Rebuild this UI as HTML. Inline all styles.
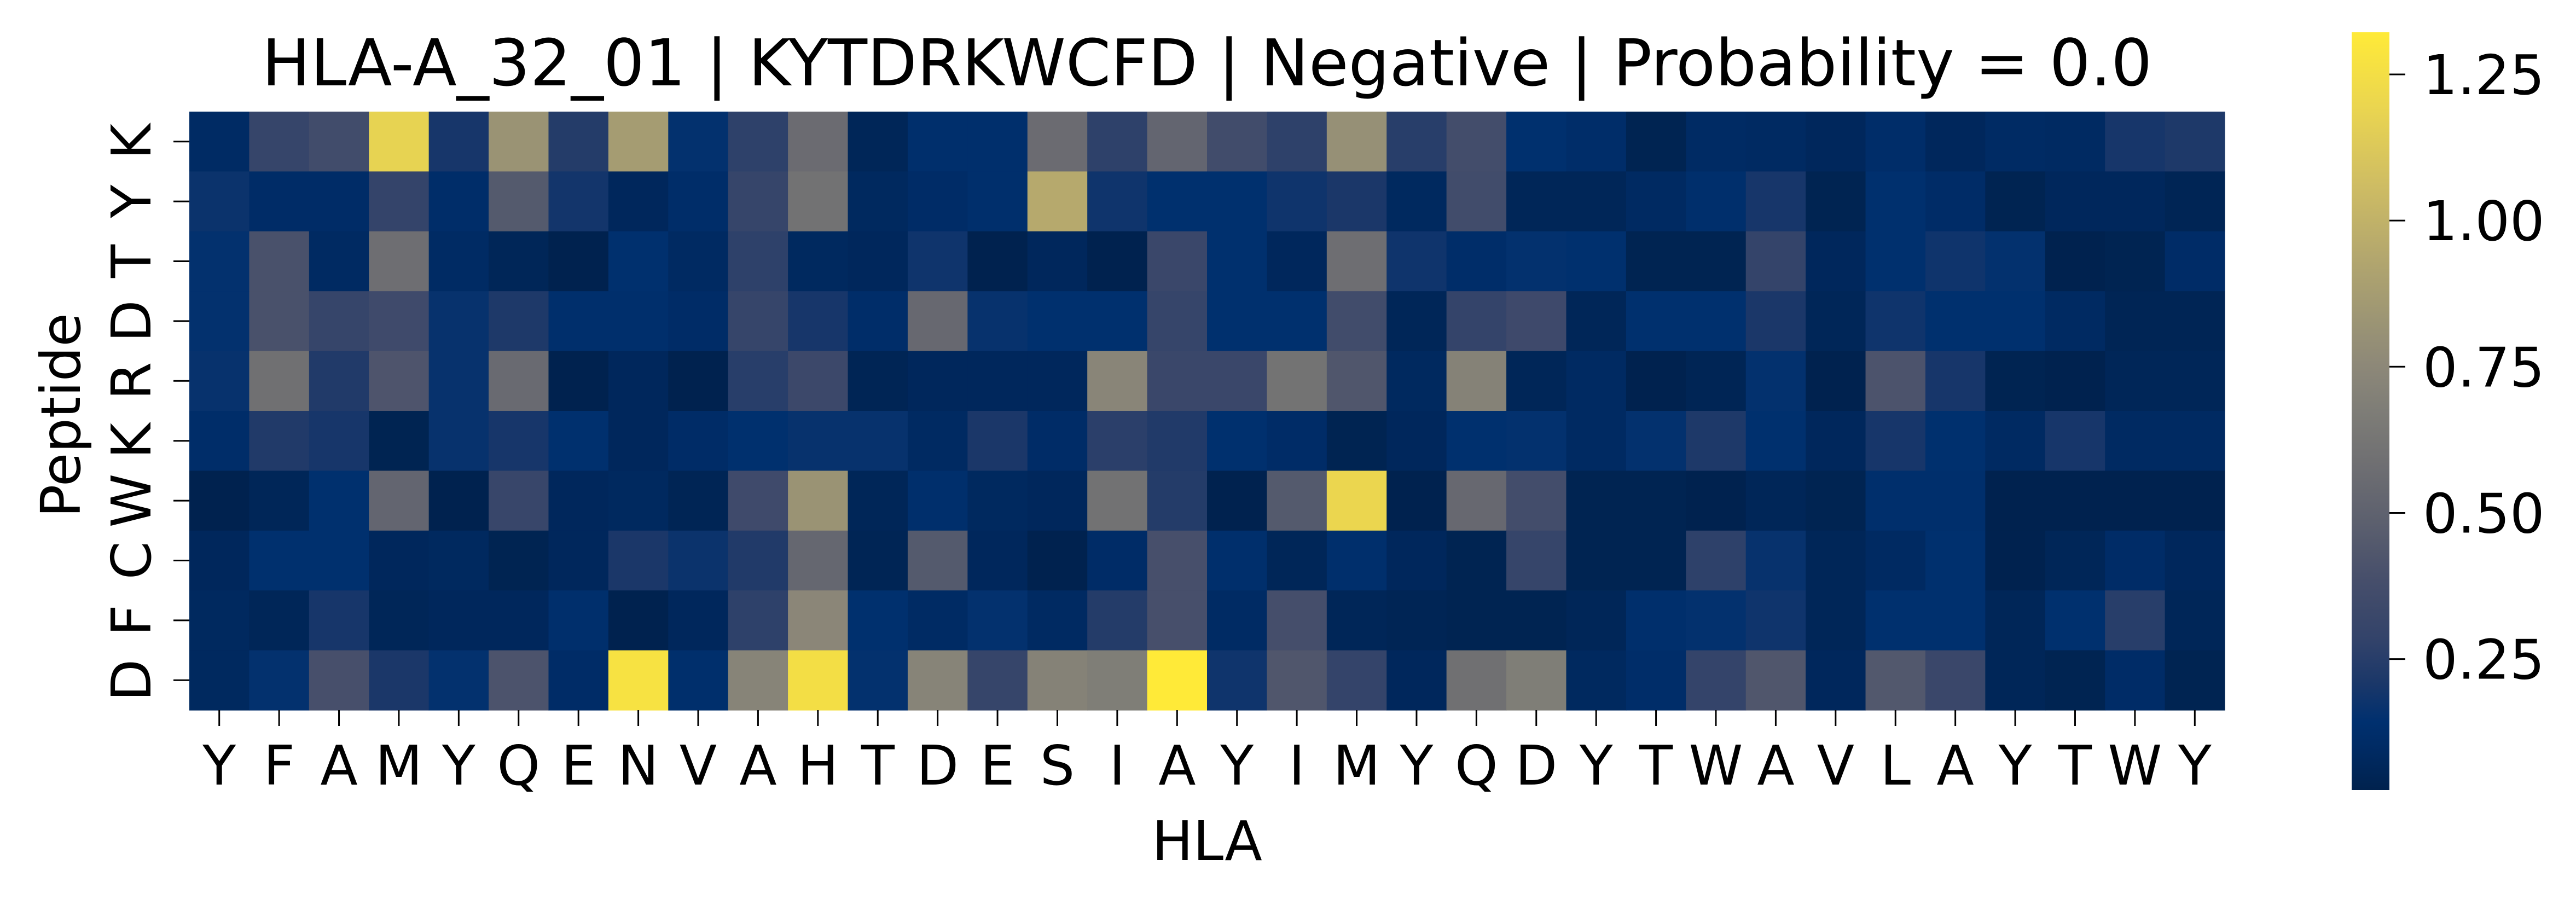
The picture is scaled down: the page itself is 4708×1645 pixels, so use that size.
<!DOCTYPE html>
<html><head><meta charset="utf-8"><style>
html,body{margin:0;padding:0;background:#fff;}
svg{display:block;font-family:"DejaVu Sans","Liberation Sans",sans-serif;}
</style></head><body>
<svg id="chart" width="4708" height="1645" viewBox="0 0 4708 1645" xmlns="http://www.w3.org/2000/svg">
<defs>
<linearGradient id="cbgrad" x1="0" y1="1" x2="0" y2="0"></linearGradient>
</defs>
<text x="2206" y="156" font-size="118" text-anchor="middle" fill="#000">HLA-A_32_01 | KYTDRKWCFD | Negative | Probability = 0.0</text>
<g id="cells"></g>
<g id="xaxis"></g>
<g id="yaxis"></g>
<text x="2206" y="1572" font-size="100" text-anchor="middle" fill="#000">HLA</text>
<text transform="translate(146,759) rotate(-90)" font-size="100" text-anchor="middle" fill="#000">Peptide</text>
<rect x="4298" y="59" width="69" height="1385" fill="url(#cbgrad)"/>
<g id="cbticks"></g>
</svg>
<script>
const xLabels = ["Y","F","A","M","Y","Q","E","N","V","A","H","T","D","E","S","I","A","Y","I","M","Y","Q","D","Y","T","W","A","V","L","A","Y","T","W","Y"];
const yLabels = ["K","Y","T","D","R","K","W","C","F","D"];
const row0 = [0.10,0.30,0.36,1.18,0.20,0.82,0.24,0.87,0.15,0.27,0.56,0.06,0.13,0.13,0.56,0.27,0.52,0.36,0.27,0.80,0.25,0.37,0.14,0.12,0.04,0.10,0.09,0.07,0.12,0.07,0.10,0.09,0.20,0.22];
const row1 = [0.17,0.11,0.11,0.29,0.12,0.45,0.19,0.07,0.12,0.30,0.60,0.08,0.11,0.13,0.95,0.18,0.14,0.14,0.18,0.21,0.08,0.36,0.06,0.06,0.09,0.13,0.20,0.04,0.14,0.11,0.04,0.07,0.07,0.05];
const row2 = [0.15,0.40,0.09,0.58,0.10,0.06,0.03,0.14,0.09,0.27,0.08,0.07,0.18,0.03,0.07,0.03,0.32,0.14,0.07,0.58,0.18,0.12,0.15,0.14,0.04,0.04,0.29,0.07,0.14,0.18,0.15,0.03,0.04,0.11];
const row3 = [0.15,0.40,0.30,0.35,0.16,0.22,0.13,0.13,0.11,0.30,0.20,0.12,0.54,0.16,0.14,0.14,0.30,0.14,0.14,0.36,0.06,0.29,0.34,0.06,0.14,0.14,0.21,0.06,0.18,0.14,0.14,0.09,0.05,0.05];
const row4 = [0.16,0.59,0.23,0.42,0.16,0.55,0.03,0.07,0.03,0.25,0.33,0.05,0.07,0.07,0.07,0.73,0.32,0.32,0.61,0.43,0.08,0.71,0.06,0.09,0.03,0.05,0.15,0.03,0.41,0.20,0.04,0.03,0.06,0.06];
const row5 = [0.12,0.23,0.20,0.04,0.16,0.20,0.14,0.07,0.11,0.14,0.16,0.16,0.09,0.21,0.11,0.26,0.23,0.14,0.11,0.04,0.07,0.14,0.15,0.09,0.15,0.22,0.14,0.07,0.20,0.14,0.09,0.20,0.09,0.09];
const row6 = [0.03,0.06,0.14,0.52,0.03,0.31,0.07,0.08,0.05,0.35,0.82,0.06,0.13,0.08,0.07,0.60,0.24,0.03,0.45,1.20,0.03,0.54,0.37,0.04,0.04,0.03,0.06,0.04,0.13,0.13,0.03,0.03,0.03,0.03];
const row7 = [0.07,0.14,0.14,0.07,0.08,0.04,0.07,0.21,0.17,0.23,0.53,0.05,0.45,0.07,0.03,0.11,0.39,0.13,0.06,0.13,0.07,0.04,0.30,0.04,0.04,0.27,0.16,0.06,0.09,0.14,0.03,0.06,0.11,0.07];
const row8 = [0.08,0.06,0.20,0.06,0.07,0.07,0.13,0.03,0.07,0.27,0.74,0.14,0.10,0.15,0.09,0.24,0.39,0.10,0.38,0.06,0.05,0.04,0.04,0.06,0.13,0.15,0.18,0.06,0.14,0.14,0.06,0.14,0.25,0.06];
const row9 = [0.08,0.15,0.39,0.21,0.15,0.41,0.11,1.27,0.13,0.72,1.25,0.15,0.72,0.30,0.71,0.68,1.32,0.18,0.43,0.29,0.07,0.59,0.68,0.08,0.12,0.29,0.43,0.07,0.44,0.32,0.06,0.04,0.11,0.04];
const rows = [row0,row1,row2,row3,row4,row5,row6,row7,row8,row9];
const cbTicks = [0.25,0.50,0.75,1.00,1.25];
const vmin = 0.026, vmax = 1.322;

const NS = "http://www.w3.org/2000/svg";
const X0 = 346, X1 = 4066, Y0 = 204, Y1 = 1298;
const cw = (X1 - X0) / xLabels.length, ch = (Y1 - Y0) / yLabels.length;
function xPos(i){ return X0 + i * cw; }
function yPos(j){ return Y0 + j * ch; }
const CB_TOP = 59, CB_BOT = 1444;
function cbY(v){ return CB_BOT - (v - vmin) / (vmax - vmin) * (CB_BOT - CB_TOP); }

const stops = [[0,"#00224e"],[0.05,"#002a62"],[0.09,"#00306f"],[0.14,"#1a3769"],[0.2,"#33436a"],[0.28,"#474f6b"],[0.35,"#5b5f6e"],[0.43,"#6f6f72"],[0.5,"#7e7d77"],[0.56,"#8d8878"],[0.62,"#9c9574"],[0.7,"#b2a66e"],[0.8,"#cfbd63"],[0.9,"#ead550"],[1,"#ffea38"]];
function hex(h){ return [parseInt(h.substr(1,2),16),parseInt(h.substr(3,2),16),parseInt(h.substr(5,2),16)]; }
function color(v){
  let t = Math.max(0, Math.min(1, (v - vmin) / (vmax - vmin)));
  for (let k = 1; k < stops.length; k++) {
    if (t <= stops[k][0]) {
      const a = stops[k-1], b = stops[k], f = (t - a[0]) / (b[0] - a[0]);
      const ca = hex(a[1]), cb = hex(b[1]);
      return "rgb(" + ca.map((c,i)=>Math.round(c + (cb[i]-c)*f)).join(",") + ")";
    }
  }
  return stops[stops.length-1][1];
}
const grad = document.getElementById("cbgrad");
stops.forEach(s => {
  const st = document.createElementNS(NS, "stop");
  st.setAttribute("offset", s[0]);
  st.setAttribute("stop-color", s[1]);
  grad.appendChild(st);
});

const cells = document.getElementById("cells");
rows.forEach((r, j) => {
  r.forEach((v, i) => {
    const rc = document.createElementNS(NS, "rect");
    rc.setAttribute("x", xPos(i)); rc.setAttribute("y", yPos(j));
    rc.setAttribute("width", cw + 0.6); rc.setAttribute("height", ch + 0.6);
    rc.setAttribute("fill", color(v));
    
    
    cells.appendChild(rc);
  });
});

const xa = document.getElementById("xaxis");
xLabels.forEach((l, i) => {
  const cx = xPos(i) + cw / 2;
  const tk = document.createElementNS(NS, "line");
  tk.setAttribute("x1", cx); tk.setAttribute("x2", cx); tk.setAttribute("y1", Y1); tk.setAttribute("y2", Y1 + 29);
  tk.setAttribute("stroke", "#000"); tk.setAttribute("stroke-width", "3");
  
  
  xa.appendChild(tk);
  const t = document.createElementNS(NS, "text");
  t.setAttribute("x", cx); t.setAttribute("y", 1434);
  t.setAttribute("font-size", "100"); t.setAttribute("text-anchor", "middle");
  t.textContent = l;
  
  
  xa.appendChild(t);
});

const ya = document.getElementById("yaxis");
yLabels.forEach((l, j) => {
  const cy = yPos(j) + ch / 2;
  const tk = document.createElementNS(NS, "line");
  tk.setAttribute("x1", X0 - 29); tk.setAttribute("x2", X0); tk.setAttribute("y1", cy); tk.setAttribute("y2", cy);
  tk.setAttribute("stroke", "#000"); tk.setAttribute("stroke-width", "3");
  
  
  ya.appendChild(tk);
  const t = document.createElementNS(NS, "text");
  t.setAttribute("transform", "translate(275," + cy + ") rotate(-90)");
  t.setAttribute("font-size", "100"); t.setAttribute("text-anchor", "middle");
  t.textContent = l;
  
  
  ya.appendChild(t);
});

const cbt = document.getElementById("cbticks");
cbTicks.forEach(v => {
  const y = cbY(v);
  const tk = document.createElementNS(NS, "line");
  tk.setAttribute("x1", 4367); tk.setAttribute("x2", 4396); tk.setAttribute("y1", y); tk.setAttribute("y2", y);
  tk.setAttribute("stroke", "#000"); tk.setAttribute("stroke-width", "3");
  
  
  cbt.appendChild(tk);
  const t = document.createElementNS(NS, "text");
  t.setAttribute("x", 4428); t.setAttribute("y", y + 36);
  t.setAttribute("font-size", "100");
  t.textContent = v.toFixed(2);
  
  
  cbt.appendChild(t);
});
</script>
</body></html>
